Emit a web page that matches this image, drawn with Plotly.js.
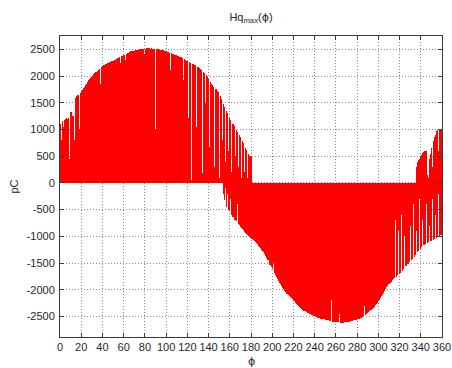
<!DOCTYPE html>
<html>
<head>
<meta charset="utf-8">
<script src="https://cdn.plot.ly/plotly-3.0.1.min.js"></script>
<style>
  html, body { margin: 0; padding: 0; background: #fff; }
  #chart { width: 452px; height: 368px; }
</style>
</head>
<body>
<div id="chart"></div>
<script>
// Hq_max per phase angle, pC, one sample per degree.

// Positive lobe, phi = 0 .. 180
const posStartA = 0;
const hqPosA = [
  1100, 800, 1150, 1050, 1180, 1200, 1210, 1200, 1220, 450,
  1320, 1330, 1260, 1250, 800, 1590, 1620, 1650, 1000, 1690,
  1720, 1740, 1770, 1800, 1830, 1860, 1890, 1920, 1950, 1970,
  1990, 2010, 2040, 2060, 2080, 2100, 2120, 2140, 1850, 2170,
  2180, 2200, 2210, 2220, 2230, 2240, 2250, 2260, 2270, 2280,
  2290, 2300, 2310, 2320, 2330, 2340, 2350, 2250, 2370, 2380,
  2390, 2400, 2300, 2420, 2430, 2440, 2450, 2460, 2465, 2470,
  2475, 2480, 2485, 2490, 2495, 2500, 2505, 2510, 2510, 2515,
  2420, 2515, 2520, 2520, 2520, 2515, 2520, 2515, 2510, 2510,
  1000, 2505, 2500, 2500, 2495, 2490, 2485, 2480, 2475, 2470,
  2460, 2455, 2450, 2440, 2110, 2430, 2420, 2410, 2400, 2395,
  2390, 2380, 2370, 2360, 2350, 2340, 1920, 2320, 2300, 2290,
  2280, 1210, 2260, 2250, 50, 2230, 2220, 2210, 2200, 1050,
  2170, 2150, 2130, 2110, 180, 2070, 2050, 1500, 2020, 1990,
  1950, 680, 1890, 1860, 1830, 1800, 300, 1750, 1720, 1700,
  100, 1620, 1580, 800, 1480, 1430, 400, 1350, 1300, 600,
  1220, 1180, 200, 1100, 1060, 500, 990, 960, 300, 890,
  860, 100, 780, 740, 200, 650, 620, 100, 550, 510,
  480
];

// Positive lobe returning, phi = 336 .. 360
const posStartB = 336;
const hqPosB = [
  300, 400, 420, 450,
  500, 530, 560, 580, 590, 600, 150, 100, 450, 550,
  650, 300, 780, 850, 900, 980, 990, 600, 1000, 1010,
  1000
];

// Negative lobe, phi = 154 .. 359
const negStart = 154;
const hqNeg = [
  -200, -320, -100, -450, -200, -500,
  -530, -300, -600, -630, -250, -690, -720, -400, -770, -790,
  -820, -850, -870, -890, -910, -930, -950, -970, -990, -1010,
  -1030, -1050, -1070, -1090, -1110, -1130, -1150, -1175, -1200, -1225,
  -1250, -1275, -1300, -1330, -1360, -1400, -1440, -1350, -1530, -1570,
  -1610, -1500, -1690, -1730, -1770, -1800, -1840, -1870, -1900, -1930,
  -1960, -1990, -2020, -2050, -2080, -2100, -2120, -2140, -2160, -2175,
  -2190, -2215, -2240, -2260, -2280, -2300, -2320, -2340, -2360, -2375,
  -2390, -2405, -2420, -2430, -2440, -2450, -2460, -2470, -2480, -2490,
  -2495, -2500, -2510, -2520, -2525, -1590, -2540, -2545, -2550, -2555,
  -2560, -2565, -2570, -2575, -2580, -2585, -2200, -2595, -2600, -2600,
  -2605, -2610, -2610, -2450, -2615, -2615, -2615, -2615, -2610, -2610,
  -2605, -2600, -2600, -2595, -2590, -2585, -2580, -2575, -2570, -2560,
  -2555, -2545, -2540, -2530, -2520, -2510, -2500, -2300, -2470, -2455,
  -2440, -2420, -2400, -2380, -2360, -2340, -2320, -2295, -2270, -2245,
  -2220, -2190, -2160, -2125, -2090, -2055, -2020, -1985, -1950, -1930,
  -1900, -1870, -1850, -1820, -1800, -1780, -700, -1760, -1730, -900,
  -1700, -1680, -600, -1640, -1610, -1000, -1560, -500, -1520, -1490,
  -800, -1450, -1420, -400, -1380, -1350, -900, -1300, -1270, -300,
  -1230, -1200, -700, -1170, -1150, -400, -1120, -1110, -800, -1090,
  -1080, -300, -1060, -1050, -600, -1030, -1020, -200, -1000, -980
];

const xTicks = [0, 20, 40, 60, 80, 100, 120, 140, 160, 180, 200, 220, 240, 260, 280, 300, 320, 340, 360];
const yTicks = [-2500, -2000, -1500, -1000, -500, 0, 500, 1000, 1500, 2000, 2500];

const anglesFrom = (start, vals) => vals.map((_, i) => start + i);

const FONT = 'Liberation Sans, Arial, Helvetica, sans-serif';
const SYM = 'DejaVu Sans, Liberation Sans, sans-serif';
const RED = '#ff0000';
const INK = '#262626';

function stems(start, vals) {
  return {
    type: 'bar',
    x: anglesFrom(start, vals),
    y: vals,
    width: 1.15,
    marker: { color: RED, line: { width: 0 } },
    hoverinfo: 'skip',
    showlegend: false
  };
}

const data = [
  stems(negStart, hqNeg),
  stems(posStartA, hqPosA),
  stems(posStartB, hqPosB)
];

const axisCommon = {
  showline: true,
  linecolor: '#3a3a3a',
  linewidth: 1,
  mirror: 'allticks',
  ticks: 'inside',
  ticklen: 4,
  tickwidth: 1,
  tickcolor: '#3a3a3a',
  showgrid: true,
  gridcolor: '#8a8a8a',
  griddash: '1px,2px',
  gridwidth: 1,
  zeroline: false,
  tickfont: { family: FONT, size: 11, color: INK }
};

const layout = {
  width: 452,
  height: 368,
  margin: { l: 60, r: 10, t: 36, b: 31, pad: 0 },
  paper_bgcolor: '#ffffff',
  plot_bgcolor: '#ffffff',
  barmode: 'overlay',
  bargap: 0,
  title: {
    text: 'Hq<sub>max</sub>(<span style="font-family:DejaVu Sans">ϕ</span>)',
    font: { family: FONT, size: 11, color: INK },
    xref: 'paper', x: 0.5, xanchor: 'center',
    yref: 'container', y: 1 - 17 / 368, yanchor: 'middle'
  },
  xaxis: Object.assign({}, axisCommon, {
    range: [0, 360],
    tickmode: 'array',
    tickvals: xTicks,
    ticktext: xTicks.map(String),
    ticklabelstandoff: 0
  }),
  yaxis: Object.assign({}, axisCommon, {
    range: [-2885, 2750],
    tickmode: 'array',
    tickvals: yTicks,
    ticktext: yTicks.map(String),
    ticklabelstandoff: 2,
    title: { text: 'pC', font: { family: FONT, size: 11, color: INK }, standoff: 5 }
  }),
  annotations: [{
    // x-axis label, under the tick labels
    text: 'ϕ',
    xref: 'paper', x: 0.5, xanchor: 'center',
    yref: 'paper', y: -(361 - 337) / 301, yanchor: 'middle',
    showarrow: false,
    font: { family: SYM, size: 11, color: INK }
  }]
};

Plotly.newPlot('chart', data, layout, { displayModeBar: false, staticPlot: true });
</script>
</body>
</html>
